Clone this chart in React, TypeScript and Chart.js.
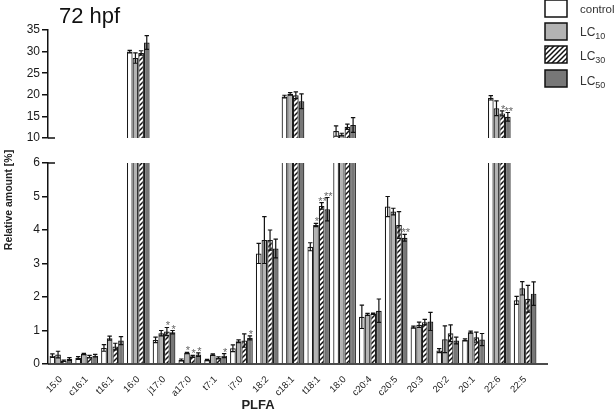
import React, { useEffect, useRef } from "react";
import { Chart, registerables } from "chart.js";

Chart.register(...registerables);

const FONT = "'Liberation Sans', Arial, sans-serif";

const categories = ["15:0", "c16:1", "t16:1", "16:0", "j17:0", "a17:0", "t7:1", "i7:0", "18:2", "c18:1", "t18:1", "18:0", "c20:4", "c20:5", "20:3", "20:2", "20:1", "22:6", "22:5"];
const seriesNames = ["control", "LC10", "LC30", "LC50"];

const control = [0.25, 0.18, 0.48, 30.0, 0.72, 0.12, 0.12, 0.47, 3.3, 19.6, 3.5, 11.6, 1.41, 4.7, 1.1, 0.4, 0.72, 19.3, 1.9];
const lc10 = [0.28, 0.3, 0.77, 28.5, 0.92, 0.33, 0.28, 0.68, 3.7, 20.2, 4.15, 10.8, 1.48, 4.55, 1.17, 0.74, 0.95, 16.9, 2.26];
const lc30 = [0.1, 0.22, 0.52, 29.7, 0.97, 0.23, 0.18, 0.7, 3.7, 19.9, 4.72, 12.6, 1.5, 4.15, 1.25, 0.92, 0.8, 15.7, 1.95];
const lc50 = [0.15, 0.25, 0.7, 32.1, 0.95, 0.28, 0.25, 0.78, 3.45, 18.5, 4.62, 13.0, 1.59, 3.77, 1.27, 0.7, 0.73, 14.9, 2.1];

const errControl = [0.05, 0.04, 0.1, 0.3, 0.08, 0.03, 0.02, 0.1, 0.3, 0.3, 0.12, 1.2, 0.35, 0.3, 0.03, 0.06, 0.03, 0.5, 0.12];
const errLC10 = [0.1, 0.02, 0.06, 1.2, 0.08, 0.02, 0.02, 0.04, 0.7, 0.3, 0.05, 0.3, 0.03, 0.1, 0.08, 0.4, 0.03, 1.7, 0.2];
const errLC30 = [0.02, 0.04, 0.1, 0.5, 0.12, 0.03, 0.03, 0.2, 0.3, 0.8, 0.1, 0.6, 0.02, 0.4, 0.08, 0.25, 0.15, 0.6, 0.4];
const errLC50 = [0.04, 0.04, 0.12, 1.6, 0.05, 0.05, 0.06, 0.06, 0.28, 1.7, 0.35, 1.7, 0.35, 0.1, 0.27, 0.1, 0.18, 1.0, 0.35];

const starsControl = ["", "", "", "", "", "", "", "", "", "", "", "", "", "", "", "", "", "", ""];
const starsLC10 = ["", "", "", "", "", "*", "", "", "", "", "*", "", "", "", "", "", "", "", ""];
const starsLC30 = ["", "", "", "", "*", "*", "", "", "", "", "**", "", "", "", "", "", "", "*", ""];
const starsLC50 = ["", "", "", "", "*", "*", "*", "*", "", "", "**", "", "", "**", "", "", "", "**", ""];

const upperTicks = [10, 15, 20, 25, 30, 35];
const lowerTicks = [0, 1, 2, 3, 4, 5, 6];

function makeHatch(): CanvasPattern | string {
  const c = document.createElement("canvas");
  c.width = 5;
  c.height = 5;
  const g = c.getContext("2d");
  if (!g) return "#ddd";
  g.fillStyle = "#fff";
  g.fillRect(0, 0, 5, 5);
  g.strokeStyle = "#111";
  g.lineWidth = 1.5;
  g.beginPath();
  g.moveTo(0, 5);
  g.lineTo(5, 0);
  g.moveTo(-2.5, 2.5);
  g.lineTo(2.5, -2.5);
  g.moveTo(2.5, 7.5);
  g.lineTo(7.5, 2.5);
  g.stroke();
  return g.createPattern(c, "repeat") || "#ddd";
}

const brokenPlugin = {
  id: "brokenAxis",
  beforeDatasetDraw(chart: any, args: any) {
    const ds = chart.data.datasets[args.index];
    const scale = chart.scales[ds.yAxisID];
    const ctx = chart.ctx;
    const ca = chart.chartArea;
    ctx.save();
    ctx.beginPath();
    ctx.rect(ca.left, scale.top, ca.right - ca.left + 20, scale.bottom - scale.top);
    ctx.clip();
  },
  afterDatasetDraw(chart: any, args: any) {
    const ds = chart.data.datasets[args.index];
    const scale = chart.scales[ds.yAxisID];
    const ctx = chart.ctx;
    const meta = args.meta;
    ctx.strokeStyle = "#111";
    ctx.lineWidth = 1.2;
    meta.data.forEach((bar: any, i: number) => {
      const v = ds.data[i];
      if (v === null || v === undefined) return;
      const e = ds.errs[i];
      const x = bar.x;
      const yHi = scale.getPixelForValue(v + e);
      const yLo = scale.getPixelForValue(v - e);
      ctx.beginPath();
      ctx.moveTo(x, yLo);
      ctx.lineTo(x, yHi);
      ctx.moveTo(x - 2.2, yHi);
      ctx.lineTo(x + 2.2, yHi);
      ctx.moveTo(x - 2.2, yLo);
      ctx.lineTo(x + 2.2, yLo);
      ctx.stroke();
      const s = ds.stars[i];
      if (s) {
        ctx.fillStyle = "#666";
        ctx.font = "11px " + FONT;
        ctx.textAlign = "center";
        ctx.textBaseline = "alphabetic";
        ctx.fillText(s, x + 1, yHi + 2);
      }
    });
    ctx.restore();
  },
  afterDraw(chart: any) {
    const ctx = chart.ctx;
    const ca = chart.chartArea;
    const yTop = chart.scales.yTop;
    const yBot = chart.scales.yBot;
    ctx.save();
    ctx.strokeStyle = "#111";
    ctx.lineWidth = 1.5;
    ctx.beginPath();
    ctx.moveTo(ca.left, yBot.bottom);
    ctx.lineTo(ca.right + 10, yBot.bottom);
    ctx.stroke();
    ctx.beginPath();
    ctx.moveTo(ca.left, yTop.bottom);
    ctx.lineTo(ca.left + 7, yTop.bottom);
    ctx.moveTo(ca.left, yBot.top);
    ctx.lineTo(ca.left + 7, yBot.top);
    ctx.stroke();

    ctx.fillStyle = "#111";
    ctx.font = "22px " + FONT;
    ctx.textAlign = "left";
    ctx.textBaseline = "alphabetic";
    ctx.fillText("72 hpf", 59, 23);

    ctx.font = "bold 13px " + FONT;
    ctx.textAlign = "center";
    ctx.fillStyle = "#222";
    ctx.fillText("PLFA", 258, 409);
    ctx.save();
    ctx.translate(12, 200);
    ctx.rotate(-Math.PI / 2);
    ctx.font = "bold 10.5px " + FONT;
    ctx.fillText("Relative amount [%]", 0, 0);
    ctx.restore();

    const fills = [chart.data.datasets[0].backgroundColor, chart.data.datasets[2].backgroundColor, chart.data.datasets[4].backgroundColor, chart.data.datasets[6].backgroundColor];
    const boxY = [0, 23, 46, 70];
    const textY = [10, 33, 57, 82];
    ctx.lineWidth = 1.5;
    for (let i = 0; i < 4; i++) {
      ctx.fillStyle = fills[i];
      ctx.fillRect(545, boxY[i], 22, 17);
      ctx.strokeStyle = "#111";
      ctx.strokeRect(545, boxY[i], 22, 17);
      ctx.fillStyle = "#333";
      ctx.textAlign = "left";
      ctx.textBaseline = "middle";
      const name = seriesNames[i];
      if (name.startsWith("LC")) {
        ctx.font = "12px " + FONT;
        ctx.fillText("LC", 580, textY[i]);
        const w = ctx.measureText("LC").width;
        ctx.font = "9px " + FONT;
        ctx.fillText(name.slice(2), 580 + w, textY[i] + 4);
      } else {
        ctx.font = "11.5px " + FONT;
        ctx.fillText(name, 580, textY[i]);
      }
    }
    ctx.restore();
  },
};

export default function App() {
  const ref = useRef<HTMLCanvasElement | null>(null);
  useEffect(() => {
    if (!ref.current) return;
    const hatch = makeHatch();
    const fills: any[] = ["#ffffff", "#b3b3b3", hatch, "#777777"];
    const vals = [control, lc10, lc30, lc50];
    const errs = [errControl, errLC10, errLC30, errLC50];
    const stars = [starsControl, starsLC10, starsLC30, starsLC50];
    const datasets: any[] = [];
    seriesNames.forEach((name, s) => {
      const common = {
        stack: name,
        backgroundColor: fills[s],
        borderColor: "#1a1a1a",
        borderWidth: 1.2,
        categoryPercentage: 0.88,
        barPercentage: 1.0,
        errs: errs[s],
        stars: stars[s],
      };
      datasets.push({ ...common, label: name, data: vals[s], yAxisID: "yBot" });
      datasets.push({ ...common, label: name + " (upper)", data: vals[s].map((v) => (v > upperTicks[0] ? v : null)), yAxisID: "yTop" });
    });

    const tickFont = { family: FONT, size: 12 };
    const yCommon = (ticks: number[], weight: number) => ({
      type: "linear",
      position: "left",
      stack: "y",
      stackWeight: weight,
      stacked: false,
      min: ticks[0],
      max: ticks[ticks.length - 1],
      afterBuildTicks: (sc: any) => {
        sc.ticks = ticks.map((v) => ({ value: v }));
      },
      afterFit: (sc: any) => {
        sc.width = 48;
      },
      border: { display: true, color: "#111", width: 1.5 },
      grid: { display: true, drawOnChartArea: false, drawTicks: true, tickLength: 6, color: "#111", lineWidth: 1.5 },
      ticks: { font: tickFont, color: "#1a1a1a", padding: 2, autoSkip: false },
    });

    const chart = new Chart(ref.current, {
      type: "bar",
      data: { labels: categories, datasets },
      options: {
        animation: false,
        responsive: false,
        layout: { padding: { top: 30, right: 77, left: 0, bottom: 0 } },
        plugins: { legend: { display: false }, tooltip: { enabled: false }, title: { display: false } },
        scales: {
          yBot: yCommon(lowerTicks, 201),
          yGap: {
            type: "linear",
            position: "left",
            stack: "y",
            stackWeight: 25,
            display: true,
            afterFit: (sc: any) => {
              sc.width = 48;
            },
            border: { display: false },
            grid: { display: false },
            ticks: { display: false },
          },
          yTop: yCommon(upperTicks, 108),
          x: {
            type: "category",
            afterFit: (sc: any) => {
              sc.height = 48;
            },
            border: { display: false },
            grid: { display: false },
            ticks: {
              autoSkip: false,
              maxRotation: 45,
              minRotation: 45,
              font: { family: FONT, size: 9.5 },
              color: "#222",
              padding: 2,
            },
          },
        } as any,
      },
      plugins: [brokenPlugin as any],
    } as any);
    return () => chart.destroy();
  }, []);
  return (
    <div style={{ position: "absolute", left: 0, top: 0, width: 615, height: 412, background: "#fff" }}>
      <canvas ref={ref} width={615} height={412} style={{ display: "block" }} />
    </div>
  );
}
